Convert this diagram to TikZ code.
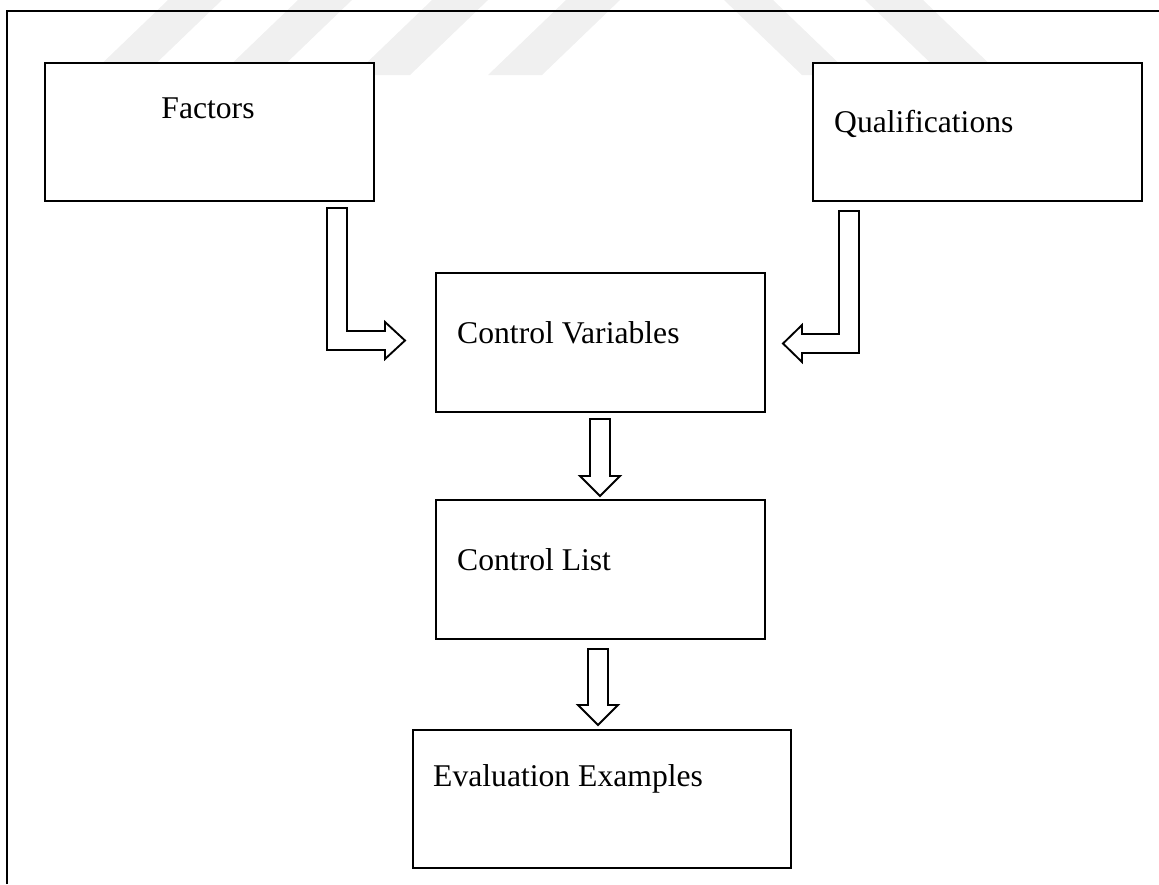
\documentclass[tikz,border=0pt]{standalone}
\usepackage{fontspec}
\setmainfont{Liberation Serif}
\usetikzlibrary{calc}
\definecolor{wm}{RGB}{240,240,240}
\tikzset{
  box/.style={draw=black, line width=1.6pt, fill=white, inner sep=0pt},
  lbl/.style={font=\fontsize{27}{32}\selectfont, inner sep=0pt},
  blockarrow/.style={draw=black, line width=1.6pt, fill=white, line join=miter},
  frame/.style={draw=black, line width=1.8pt},
  stripe/.style={fill=wm, draw=none}
}
\begin{document}
\begin{tikzpicture}[x=0.03cm, y=-0.03cm]
\useasboundingbox (0,0) rectangle (1159,884);
% watermark stripes
\fill[stripe] (168,0) -- (222,0) -- (144,75) -- (90,75) -- cycle;
\fill[stripe] (298,0) -- (352,0) -- (274,75) -- (220,75) -- cycle;
\fill[stripe] (432,0) -- (488,0) -- (410,75) -- (354,75) -- cycle;
\fill[stripe] (566,0) -- (620,0) -- (542,75) -- (488,75) -- cycle;
\fill[stripe] (724,0) -- (773,0) -- (851,75) -- (802,75) -- cycle;
\fill[stripe] (865,0) -- (923,0) -- (1001,75) -- (943,75) -- cycle;
% frame
\coordinate (fb) at (7,884);
\coordinate (ftl) at (7,11);
\coordinate (ftr) at (1159,11);
\draw[frame] (fb) -- (ftl) -- (ftr);
% boxes
\node[box, minimum width=329*0.03cm, minimum height=138*0.03cm, anchor=north west] (fac) at (44,62) {};
\node[box, minimum width=329*0.03cm, minimum height=138*0.03cm, anchor=north west] (qual) at (812,62) {};
\node[box, minimum width=329*0.03cm, minimum height=139*0.03cm, anchor=north west] (cv) at (435,272) {};
\node[box, minimum width=329*0.03cm, minimum height=139*0.03cm, anchor=north west] (cl) at (435,499) {};
\node[box, minimum width=378*0.03cm, minimum height=138*0.03cm, anchor=north west] (ee) at (412,729) {};
% labels
\node[lbl, anchor=base] (tfac) at (208,118) {Factors};
\node[lbl, anchor=base west] (tqual) at (834,132) {Qualifications};
\node[lbl, anchor=base west] (tcv) at (457,343) {Control Variables};
\node[lbl, anchor=base west] (tcl) at (457,570) {Control List};
\node[lbl, anchor=base west] (tee) at (433,786) {Evaluation Examples};
% L-shaped arrow from Factors to Control Variables
\draw[blockarrow] (327,208) -- (347,208) -- (347,331) -- (385,331) -- (385,322)
  -- (405,340.5) -- (385,359) -- (385,350) -- (327,350) -- cycle;
% L-shaped arrow from Qualifications to Control Variables
\draw[blockarrow] (859,211) -- (839,211) -- (839,334) -- (802,334) -- (802,325)
  -- (783,343.5) -- (802,362) -- (802,353) -- (859,353) -- cycle;
% Control Variables -> Control List
\draw[blockarrow] (590,419) -- (610,419) -- (610,476) -- (620,476) -- (600,496)
  -- (580,476) -- (590,476) -- cycle;
% Control List -> Evaluation Examples
\draw[blockarrow] (588,649) -- (608,649) -- (608,705) -- (618,705) -- (598,725)
  -- (578,705) -- (588,705) -- cycle;
\end{tikzpicture}
\end{document}
